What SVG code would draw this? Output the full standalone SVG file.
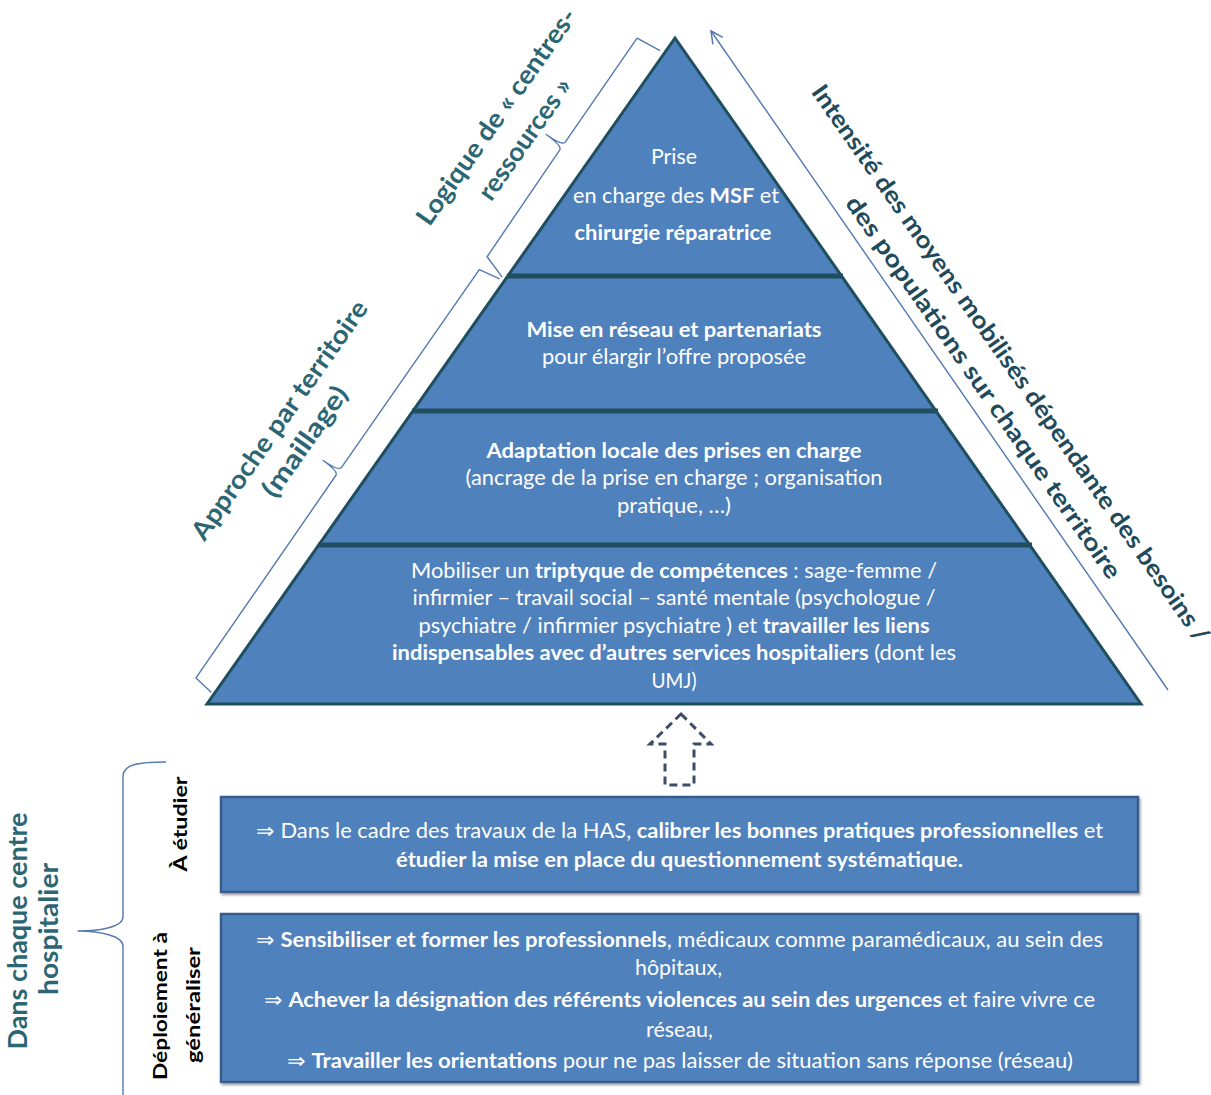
<svg xmlns="http://www.w3.org/2000/svg" width="1211" height="1095" viewBox="0 0 1211 1095">
<style>
  text { font-family: Lato, "Liberation Sans", sans-serif; }
  .w { fill: #ffffff; font-size: 21px; text-anchor: middle; }
  .b { font-weight: 700; }
  .lab { fill: #2c6673; font-size: 26px; font-weight: 700; text-anchor: middle; }
  .rlab { fill: #1f4a5b; font-size: 24px; font-weight: 700; text-anchor: middle; }
  .blk { fill: #000000; font-size: 19.5px; font-weight: 700; text-anchor: middle; }
  .brk { fill: none; stroke: #5379b0; stroke-width: 1.4; stroke-linejoin: round; }
  .band { stroke: #1f4e5f; stroke-width: 5; }
  .box { fill: #4f81bd; stroke: #385d8a; stroke-width: 2.5; }
</style>
<defs>
  <marker id="openArrow" viewBox="0 0 14 14" refX="13" refY="7" markerWidth="14" markerHeight="14" orient="auto" markerUnits="userSpaceOnUse">
    <path d="M1,1 L13,7 L1,13" fill="none" stroke="#5379b0" stroke-width="1.5"/>
  </marker>
  <filter id="sh" x="-5%" y="-5%" width="110%" height="120%">
    <feDropShadow dx="1.5" dy="2" stdDeviation="1.2" flood-color="#000" flood-opacity="0.35"/>
  </filter>
</defs>

<g id="pyramid">
  <polygon points="675,38 1141,704 207,704" fill="#4f81bd" stroke="#1f4e5f" stroke-width="3" stroke-linejoin="miter"/>
  <line class="band" x1="507" y1="276" x2="843" y2="276"/>
  <line class="band" x1="412" y1="411" x2="938" y2="411"/>
  <line class="band" x1="318" y1="545" x2="1032" y2="545"/>
</g>

<g id="level-top">
  <text class="w" x="674" y="164" textLength="46" lengthAdjust="spacingAndGlyphs">Prise</text>
  <text class="w" x="676" y="203" textLength="206" lengthAdjust="spacingAndGlyphs">en  charge des <tspan class="b">MSF</tspan> et</text>
  <text class="w b" x="673" y="240" textLength="197" lengthAdjust="spacingAndGlyphs">chirurgie réparatrice</text>
</g>

<g id="level-reseau">
  <text class="w b" x="674" y="337" textLength="295" lengthAdjust="spacingAndGlyphs">Mise en réseau et partenariats</text>
  <text class="w" x="674" y="364" textLength="264" lengthAdjust="spacingAndGlyphs">pour élargir l’offre proposée</text>
</g>

<g id="level-adaptation">
  <text class="w b" x="674" y="458" textLength="375" lengthAdjust="spacingAndGlyphs">Adaptation locale des  prises en charge</text>
  <text class="w" x="674" y="485" textLength="417" lengthAdjust="spacingAndGlyphs">(ancrage de la prise en charge ; organisation</text>
  <text class="w" x="674" y="513" textLength="114" lengthAdjust="spacingAndGlyphs">pratique, …)</text>
</g>

<g id="level-base">
  <text class="w" x="674" y="578" textLength="526" lengthAdjust="spacingAndGlyphs">Mobiliser un <tspan class="b">triptyque de compétences</tspan> : sage-femme /</text>
  <text class="w" x="674" y="605" textLength="523" lengthAdjust="spacingAndGlyphs">infirmier – travail social – santé mentale (psychologue /</text>
  <text class="w" x="674" y="633" textLength="511" lengthAdjust="spacingAndGlyphs">psychiatre / infirmier psychiatre ) et <tspan class="b">travailler les liens</tspan></text>
  <text class="w" x="674" y="660" textLength="564" lengthAdjust="spacingAndGlyphs"><tspan class="b">indispensables avec d’autres services hospitaliers</tspan> (dont les</text>
  <text class="w" x="674" y="688" textLength="45" lengthAdjust="spacingAndGlyphs">UMJ)</text>
</g>

<g id="label-centres-ressources" transform="translate(207,704) rotate(-54.9)">
  <text class="lab" x="647" y="-92" textLength="258" lengthAdjust="spacingAndGlyphs">Logique de « centres-</text>
  <text class="lab" x="645" y="-56" textLength="142" lengthAdjust="spacingAndGlyphs">ressources »</text>
</g>

<g id="label-territoire" transform="translate(207,704) rotate(-54.9)">
  <text class="lab" x="274" y="-95" textLength="286" lengthAdjust="spacingAndGlyphs">Approche par territoire</text>
  <text class="lab" x="271" y="-62" textLength="129" lengthAdjust="spacingAndGlyphs">(maillage)</text>
</g>

<g id="label-intensite" transform="translate(675,38) rotate(55)">
  <text class="rlab" x="459" y="-80" textLength="674" lengthAdjust="spacingAndGlyphs">Intensité des moyens mobilisés dépendante des besoins /</text>
  <text class="rlab" x="463" y="-44" textLength="461" lengthAdjust="spacingAndGlyphs">des populations sur chaque  territoire</text>
</g>

<g id="label-centre-hospitalier">
  <text class="lab" transform="translate(27,931) rotate(-90)" textLength="237" lengthAdjust="spacingAndGlyphs">Dans chaque centre</text>
  <text class="lab" transform="translate(58,929) rotate(-90)" textLength="132" lengthAdjust="spacingAndGlyphs">hospitalier</text>
</g>

<g id="label-etudier">
  <text class="blk" transform="translate(187,824) rotate(-90)" textLength="95" lengthAdjust="spacingAndGlyphs">À étudier</text>
</g>

<g id="label-deploiement">
  <text class="blk" transform="translate(167,1006) rotate(-90)" textLength="148" lengthAdjust="spacingAndGlyphs">Déploiement à</text>
  <text class="blk" transform="translate(200,1005) rotate(-90)" textLength="116" lengthAdjust="spacingAndGlyphs">généraliser</text>
</g>

<g id="box-etudier">
  <rect class="box" x="221" y="797" width="917" height="95" filter="url(#sh)"/>
  <text class="w" x="679.5" y="838" textLength="847" lengthAdjust="spacingAndGlyphs">⇒ Dans le cadre des travaux de la HAS,  <tspan class="b">calibrer les bonnes pratiques professionnelles</tspan> et</text>
  <text class="w b" x="679.5" y="867" textLength="567" lengthAdjust="spacingAndGlyphs">étudier la mise en place du questionnement systématique.</text>
</g>

<g id="box-deploiement">
  <rect class="box" x="221" y="914" width="917" height="168" filter="url(#sh)"/>
  <text class="w" x="679.5" y="947" textLength="847" lengthAdjust="spacingAndGlyphs">⇒ <tspan class="b">Sensibiliser et former les professionnels</tspan>, médicaux comme paramédicaux, au sein des</text>
  <text class="w" x="678.5" y="975" textLength="87" lengthAdjust="spacingAndGlyphs">hôpitaux,</text>
  <text class="w" x="679.5" y="1007" textLength="831" lengthAdjust="spacingAndGlyphs">⇒ <tspan class="b">Achever la désignation des référents violences au sein des urgences</tspan> et faire vivre ce</text>
  <text class="w" x="679.5" y="1037" textLength="67" lengthAdjust="spacingAndGlyphs">réseau,</text>
  <text class="w" x="680" y="1068" textLength="786" lengthAdjust="spacingAndGlyphs">⇒ <tspan class="b">Travailler les orientations</tspan> pour ne pas laisser de situation sans réponse (réseau)</text>
</g>

<g id="connectors">
  <g transform="translate(207,704) rotate(-54.9)">
    <path class="brk" d="M12,-3 L15,-24 L261,-26 Q266,-26 266,-45 Q266,-26 271,-26 L512,-27 L516,-5"/>
    <path class="brk" d="M519,-4 L527,-28 L656,-30 Q661,-30 661,-50 Q661,-30 666,-30 L792,-31 L795,-5"/>
  </g>
  <line x1="1168" y1="690" x2="711" y2="31" stroke="#5379b0" stroke-width="1.4" marker-end="url(#openArrow)"/>
  <path class="brk" d="M166,762 C140,762 123,764 123,776 L123,917 C123,927 100,931 78,931 C100,931 123,936 123,946 L123,1095"/>
  <polygon points="681,714 711,744 694,744 694,785 665,785 665,744 650,744" fill="none" stroke="#3d4d68" stroke-width="3" stroke-dasharray="8,5"/>
</g>
</svg>
